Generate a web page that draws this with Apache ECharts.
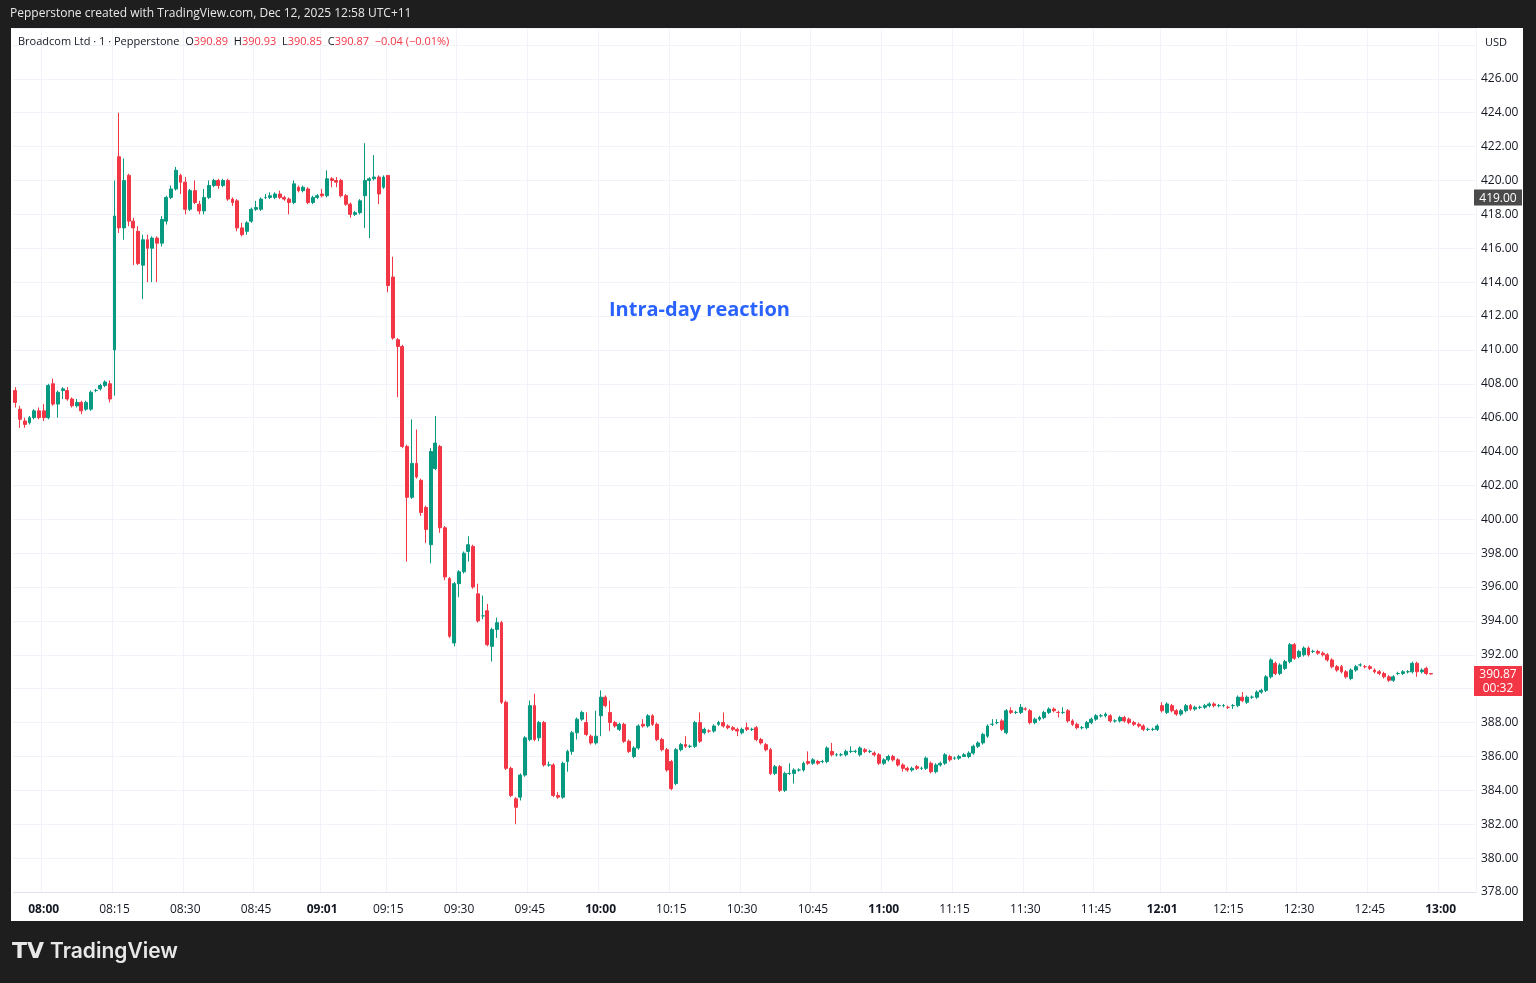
<!DOCTYPE html>
<html><head><meta charset="utf-8">
<script src="https://cdn.jsdelivr.net/npm/echarts@6/dist/echarts.min.js"></script>
<style>html,body{margin:0;padding:0;background:#1e1e1e;}#c{width:1536px;height:983px;}</style>
</head><body><div id="c"></div>
<script>
// [open, close, low, high] per one-minute bar
const ohlc = [
[407.6,406.9,406.6,407.8],[406.5,405.9,405.4,406.7],[405.8,405.6,405.4,406.0],[405.7,406.0,405.6,406.1],[406.0,406.4,405.9,406.5],
[406.4,406.0,405.9,406.6],[406.4,406.0,405.8,406.8],[406.0,407.9,405.9,408.0],[408.0,406.8,406.7,408.3],[406.8,407.5,406.0,407.6],
[407.6,407.7,407.1,407.8],[407.6,407.1,407.0,407.8],[407.1,406.7,406.6,407.2],[406.7,406.9,406.6,407.1],[406.9,406.4,406.2,407.0],
[406.5,406.9,406.4,407.0],[406.5,407.5,406.4,407.6],[407.6,407.6,407.5,407.7],[407.7,407.9,407.6,408.0],[407.9,408.1,407.8,408.2],
[408.0,407.1,406.9,408.2],[410.0,417.9,407.3,420.0],[421.4,417.2,416.9,424.0],[417.2,420.0,416.5,421.3],[420.3,417.6,417.3,420.4],
[417.6,417.2,415.0,417.8],[417.0,415.1,415.0,417.3],[415.0,416.5,413.0,416.8],[416.5,416.0,414.0,416.8],[416.0,416.6,414.0,416.7],
[416.6,416.3,414.0,416.7],[416.3,417.7,416.1,417.9],[417.6,419.0,417.4,419.1],[419.0,419.5,418.9,419.7],[419.5,420.6,419.4,420.8],
[420.3,419.9,419.2,420.4],[419.9,418.3,418.0,420.2],[418.3,419.4,418.2,419.5],[419.4,418.7,418.6,420.0],[418.6,418.2,418.0,418.8],
[418.2,419.0,418.0,419.5],[419.0,419.7,418.9,420.0],[419.7,420.0,419.6,420.1],[420.0,419.7,419.5,420.1],[419.7,420.0,419.6,420.1],
[420.0,418.9,418.8,420.1],[418.9,418.7,418.5,419.0],[418.8,417.2,417.0,418.9],[417.2,416.8,416.7,417.5],[417.0,417.5,416.8,417.6],
[417.6,418.3,417.5,418.4],[418.3,418.4,418.2,418.8],[418.3,418.9,418.2,419.0],[419.0,419.0,418.9,419.2],[419.0,419.1,418.9,419.3],
[419.0,419.2,418.9,419.3],[419.2,419.0,418.9,419.4],[419.0,418.9,418.8,419.1],[418.9,418.7,418.0,419.0],[418.7,419.8,418.6,420.0],
[419.6,419.4,419.3,419.7],[419.4,419.6,419.3,419.7],[419.5,418.7,418.6,419.6],[418.7,419.0,418.6,419.1],[419.0,419.1,418.9,419.2],
[419.2,419.1,419.0,419.5],[419.1,420.1,419.0,420.6],[420.1,420.0,419.6,420.2],[420.0,419.9,419.6,420.2],[420.0,419.1,419.0,420.1],
[419.1,418.6,418.5,419.2],[418.6,418.0,417.8,418.7],[418.0,418.1,417.9,418.2],[418.1,418.8,418.0,418.9],[419.1,420.0,417.2,422.2],
[420.0,420.1,416.6,420.2],[420.1,420.2,420.0,421.5],[420.2,419.2,418.6,420.3],[419.6,420.2,419.5,420.3],[420.3,413.8,413.4,420.3],
[414.3,410.7,410.6,415.5],[410.6,410.2,407.2,410.7],[410.2,404.3,404.2,410.3],[404.3,401.3,397.5,404.4],[401.3,403.3,401.2,405.9],
[403.3,402.5,402.4,405.3],[402.3,400.4,400.2,402.4],[400.7,399.4,398.6,400.8],[398.5,404.0,397.4,404.2],[403.0,404.5,402.9,406.1],
[404.3,399.5,399.2,404.4],[399.5,396.6,396.4,399.6],[396.5,393.1,393.0,396.6],[392.7,396.2,392.5,396.3],[396.2,396.9,395.4,397.0],
[396.9,398.0,396.8,398.1],[398.1,398.5,397.5,399.0],[398.4,396.0,395.9,398.5],[395.6,394.0,393.9,396.2],[394.3,394.3,394.1,395.5],
[394.6,392.6,392.5,395.0],[392.5,393.5,391.6,393.6],[393.5,393.9,393.0,394.2],[393.9,389.2,389.1,394.0],[389.2,385.3,385.2,389.3],
[385.3,383.7,383.6,385.4],[383.5,383.0,382.0,383.6],[383.6,384.9,383.4,385.0],[384.9,387.1,384.8,387.2],[387.0,389.0,386.9,389.3],
[389.0,387.0,386.9,389.7],[387.1,388.0,386.9,388.1],[388.0,385.5,385.4,388.1],[385.5,385.5,385.4,385.7],[385.5,383.7,383.6,385.6],
[383.7,383.6,383.5,383.9],[383.6,385.6,383.5,385.7],[385.7,386.3,385.1,386.4],[386.3,387.4,386.1,387.5],[387.4,388.2,387.0,388.3],
[388.2,388.6,388.1,388.7],[388.0,387.3,387.2,388.6],[387.2,386.8,386.7,387.3],[386.8,387.2,386.7,388.7],[388.4,389.5,387.2,389.9],
[389.5,389.0,388.9,389.6],[388.6,388.0,387.5,389.3],[388.0,387.8,387.7,388.1],[387.6,387.9,387.5,388.0],[387.9,386.9,386.8,388.0],
[386.9,386.3,386.2,387.0],[386.0,386.5,385.9,386.6],[386.5,387.8,386.4,387.9],[387.9,387.8,387.7,388.2],[387.8,388.4,387.7,388.5],
[388.4,387.9,387.8,388.5],[387.9,387.0,386.9,388.0],[387.0,386.4,386.3,387.1],[386.4,385.2,385.1,386.5],[385.7,384.1,384.0,385.8],
[384.4,386.4,384.3,386.5],[386.4,386.7,386.3,386.8],[386.7,386.6,386.5,387.2],[386.6,386.6,386.5,386.7],[386.6,388.0,386.5,388.1],
[388.0,386.9,386.8,388.6],[387.4,387.6,387.3,387.7],[387.5,387.5,387.4,387.6],[387.5,387.8,387.4,387.9],[387.9,388.0,387.8,388.1],
[388.0,387.8,387.7,388.6],[387.8,387.7,387.6,387.9],[387.7,387.6,387.5,387.8],[387.6,387.5,387.2,387.7],[387.4,387.6,387.3,387.7],
[387.7,387.6,387.5,388.0],[387.6,387.6,387.5,387.7],[387.7,387.0,386.9,387.8],[387.0,386.8,386.7,387.1],[386.7,386.4,386.3,386.8],
[386.4,385.0,384.9,386.5],[385.0,385.4,384.9,385.5],[385.4,384.0,383.9,385.5],[384.0,385.0,383.9,385.1],[385.0,385.0,384.9,385.6],
[385.0,385.2,384.4,385.3],[385.2,385.2,385.1,385.3],[385.2,385.6,385.1,385.7],[385.7,385.6,385.5,386.3],[385.6,385.8,385.5,385.9],
[385.7,385.6,385.5,385.8],[385.7,385.7,385.6,385.8],[385.7,386.5,385.6,386.6],[386.3,386.1,386.0,386.8],[386.1,386.1,386.0,386.2],
[386.1,386.1,386.0,386.2],[386.1,386.3,386.0,386.4],[386.3,386.3,386.2,386.6],[386.3,386.3,386.2,386.4],[386.1,386.5,386.0,386.6],
[386.4,386.3,386.2,386.5],[386.3,386.3,386.2,386.4],[386.2,386.1,386.0,386.3],[386.1,385.6,385.5,386.2],[385.6,385.8,385.5,385.9],
[385.8,386.0,385.7,386.1],[386.0,385.8,385.7,386.1],[385.8,385.5,385.4,385.9],[385.5,385.3,385.1,385.6],[385.3,385.2,385.1,385.4],
[385.2,385.3,385.1,385.4],[385.4,385.3,385.2,385.5],[385.3,385.3,385.2,385.4],[385.3,385.9,385.2,386.0],[385.6,385.1,385.0,385.7],
[385.1,385.5,385.0,385.6],[385.5,385.6,385.4,385.7],[385.6,386.1,385.5,386.2],[386.0,385.8,385.7,386.1],[385.9,385.9,385.8,386.0],
[385.9,386.0,385.8,386.1],[386.0,386.1,386.0,386.2],[386.0,386.2,385.9,386.3],[386.2,386.6,386.1,386.7],[386.6,386.8,386.5,386.9],
[386.8,387.3,386.7,387.4],[387.2,387.8,387.1,387.9],[387.9,387.9,387.8,388.2],[388.0,388.0,387.9,388.2],[388.1,387.6,387.5,388.2],
[387.4,388.7,387.3,388.8],[388.7,388.6,388.5,388.9],[388.6,388.6,388.5,388.7],[388.6,388.9,388.5,389.1],[388.8,388.8,388.7,388.9],
[388.7,388.0,387.9,388.8],[388.0,388.2,387.9,388.3],[388.2,388.3,388.1,388.4],[388.3,388.6,388.2,388.7],[388.6,388.8,388.5,388.9],
[388.8,388.7,388.6,388.9],[388.6,388.6,388.3,388.7],[388.6,388.6,388.5,388.9],[388.7,388.1,388.0,388.8],[388.1,387.9,387.8,388.2],
[387.9,387.7,387.6,388.0],[387.7,387.7,387.6,387.8],[387.7,388.0,387.6,388.1],[388.0,388.2,387.9,388.3],[388.2,388.4,388.1,388.5],
[388.4,388.4,388.3,388.5],[388.4,388.5,388.3,388.6],[388.4,388.1,388.0,388.5],[388.1,388.1,388.0,388.2],[388.1,388.3,388.0,388.4],
[388.3,388.1,388.0,388.4],[388.2,388.0,387.9,388.3],[388.0,387.9,387.8,388.1],[387.9,387.8,387.7,388.0],[387.8,387.6,387.5,387.9],
[387.6,387.6,387.5,387.7],[387.6,387.6,387.5,387.7],[387.6,387.8,387.5,387.9],[389.0,388.7,388.6,389.2],[388.6,389.1,388.5,389.2],
[389.0,388.7,388.6,389.1],[388.7,388.5,388.4,388.8],[388.5,388.7,388.4,388.8],[388.7,389.0,388.6,389.1],[389.0,388.8,388.7,389.1],
[388.8,388.9,388.7,389.0],[388.9,388.9,388.8,389.0],[388.9,389.0,388.8,389.1],[389.0,389.1,388.9,389.2],[389.1,389.0,388.9,389.2],
[389.0,389.0,388.9,389.1],[389.0,389.0,388.9,389.1],[388.9,388.9,388.8,389.0],[389.0,389.0,388.8,389.1],[389.0,389.5,388.9,389.6],
[389.5,389.3,389.2,389.8],[389.2,389.5,389.1,389.6],[389.5,389.5,389.4,389.6],[389.5,389.8,389.4,389.9],[389.8,389.9,389.7,390.0],
[389.9,390.7,389.8,390.8],[390.7,391.7,390.6,391.8],[391.5,390.9,390.8,391.6],[390.9,391.4,390.8,391.5],[391.2,391.6,391.1,391.7],
[391.6,392.6,391.5,392.7],[392.6,391.8,391.7,392.7],[391.9,392.2,391.8,392.3],[392.0,392.4,391.9,392.5],[392.4,392.0,391.9,392.5],
[392.2,392.2,392.1,392.3],[392.2,392.1,392.0,392.3],[392.1,392.0,391.9,392.2],[392.0,391.7,391.6,392.1],[391.7,391.3,391.2,391.8],
[391.3,391.1,391.0,391.4],[391.3,391.0,390.9,391.4],[391.0,390.7,390.6,391.1],[390.6,391.1,390.5,391.2],[391.1,391.3,391.0,391.4],
[391.4,391.4,391.3,391.5],[391.3,391.3,391.2,391.4],[391.3,391.2,391.1,391.4],[391.1,391.0,390.9,391.2],[391.0,390.9,390.8,391.1],
[390.9,390.7,390.6,391.0],[390.7,390.5,390.4,390.8],[390.5,390.7,390.4,390.8],[390.9,390.9,390.8,391.0],[390.9,391.0,390.8,391.1],
[391.0,391.0,390.9,391.1],[391.0,391.5,390.9,391.6],[391.5,391.0,390.7,391.6],[391.0,391.1,390.9,391.2],[391.2,390.9,390.8,391.3],
[390.89,390.87,390.85,390.93]
];
const totalSlots = 310;
// time tick labels at slot positions
const tickSlots  = [6,21,36,51,65,79,94,109,124,139,154,169,184,199,214,229,243,257,272,287,302];
const tickLabels = ['08:00','08:15','08:30','08:45','09:01','09:15','09:30','09:45','10:00','10:15','10:30','10:45','11:00','11:15','11:30','11:45','12:01','12:15','12:30','12:45','13:00'];
const boldLabels = ['08:00','09:01','10:00','11:00','12:01','13:00'];
const yMin = 378, yMax = 429, yStep = 2;
const markedPrice = 419.00;
const lastPrice = 390.87;

const cats = [];
for (let i = 0; i < totalSlots; i++) cats.push(String(i));
const data = ohlc.map(r => [r[0], r[1], r[2], r[3]]);
const labelMap = {};
tickSlots.forEach((s, i) => labelMap[s] = tickLabels[i]);

const chart = echarts.init(document.getElementById('c'));
const option = {
  backgroundColor: '#1e1e1e',
  animation: false,
  grid: { left: 13, right: 60, top: 28, bottom: 91, backgroundColor: '#ffffff', show: true, borderWidth: 0 },
  xAxis: {
    type: 'category', data: cats, boundaryGap: true,
    axisLine: { show: true, lineStyle: { color: '#e0e3eb' } },
    axisTick: { show: false },
    axisLabel: {
      interval: (i) => labelMap[i] !== undefined,
      formatter: (v) => { const t = labelMap[+v]; if (!t) return ''; return boldLabels.includes(t) ? '{b|' + t + '}' : '{n|' + t + '}'; },
      margin: 12,
      rich: { b: { fontWeight: 'bold', fontSize: 12, color: '#131722', fontFamily: 'Open Sans' }, n: { fontSize: 12, color: '#131722', fontFamily: 'Open Sans' } }
    },
    splitLine: { show: true, interval: (i) => labelMap[i] !== undefined, lineStyle: { color: '#f0f3fa' } }
  },
  yAxis: {
    type: 'value', position: 'right', min: yMin, max: yMax, interval: yStep, scale: true,
    axisLine: { show: false }, axisTick: { show: false },
    axisLabel: { color: '#131722', fontSize: 12, fontFamily: 'Open Sans', margin: 5, padding: [4, 0, 0, 0],
      formatter: (v) => v > 427 ? '' : v.toFixed(2) },
    splitLine: { lineStyle: { color: '#f0f3fa' } }
  },
  series: [{
    type: 'candlestick', data: data, barWidth: 3.4,
    itemStyle: { color: '#089981', color0: '#f23645', borderColor: '#089981', borderColor0: '#f23645', borderWidth: 1 }
  }],
  graphic: []
};
chart.setOption(option);

const yMarked = chart.convertToPixel({ yAxisIndex: 0 }, markedPrice);
const yLast = chart.convertToPixel({ yAxisIndex: 0 }, lastPrice);
const g = [
  { type: 'rect', shape: { x: 1523, y: 28, width: 13, height: 893 }, style: { fill: '#1e1e1e' }, z: 10 },
  { type: 'rect', shape: { x: 11, y: 28, width: 2, height: 893 }, style: { fill: '#ffffff' }, z: 10 },
  { type: 'rect', shape: { x: 1476, y: 28, width: 47, height: 864 }, style: { fill: '#ffffff' }, z: -1 },
  { type: 'rect', shape: { x: 11, y: 892, width: 1512, height: 29 }, style: { fill: '#ffffff' }, z: -1 },
  { type: 'text', x: 10, y: 8, style: { text: 'Pepperstone created with TradingView.com, Dec 12, 2025 12:58 UTC+11', fill: '#e8e8e8', font: '12px "Open Sans"' }, z: 10 },
  { type: 'text', x: 18, y: 36, style: { rich: {
      d: { fill: '#131722', font: '11px "Open Sans"' },
      r: { fill: '#f23645', font: '11px "Open Sans"' } },
      text: '{d|Broadcom Ltd · 1 · Pepperstone  O}{r|390.89}{d|  H}{r|390.93}{d|  L}{r|390.85}{d|  C}{r|390.87}{r|  −0.04 (−0.01%)}' }, z: 10 },
  { type: 'text', x: 1485, y: 37, style: { text: 'USD', fill: '#131722', font: '11px "Open Sans"' }, z: 10 },
  { type: 'text', x: 609, y: 300, style: { text: 'Intra-day reaction', fill: '#2962ff', font: 'bold 20px "Open Sans"' }, z: 10 },
  { type: 'rect', shape: { x: 1474, y: yMarked - 8, width: 48, height: 16 }, style: { fill: '#4a4a4a' }, z: 10 },
  { type: 'text', x: 1498, y: yMarked + 1, style: { text: '419.00', fill: '#ffffff', font: '12px "Open Sans"', align: 'center', verticalAlign: 'middle' }, z: 11 },
  { type: 'rect', shape: { x: 1474, y: yLast - 8, width: 48, height: 30 }, style: { fill: '#f23645' }, z: 10 },
  { type: 'text', x: 1498, y: yLast + 1, style: { text: '390.87', fill: '#ffffff', font: '12px "Open Sans"', align: 'center', verticalAlign: 'middle' }, z: 11 },
  { type: 'text', x: 1498, y: yLast + 15, style: { text: '00:32', fill: '#ffffff', font: '12px "Open Sans"', align: 'center', verticalAlign: 'middle' }, z: 11 },
  { type: 'text', x: 12, y: 941, style: { text: 'TV', fill: '#e8e8e8', font: 'bold 22px "DejaVu Sans"' }, z: 10 },
  { type: 'text', x: 50, y: 941, style: { text: 'TradingView', fill: '#e8e8e8', font: '600 21px "Inter"' }, z: 10 }
];
chart.setOption({ graphic: g });
</script></body></html>
